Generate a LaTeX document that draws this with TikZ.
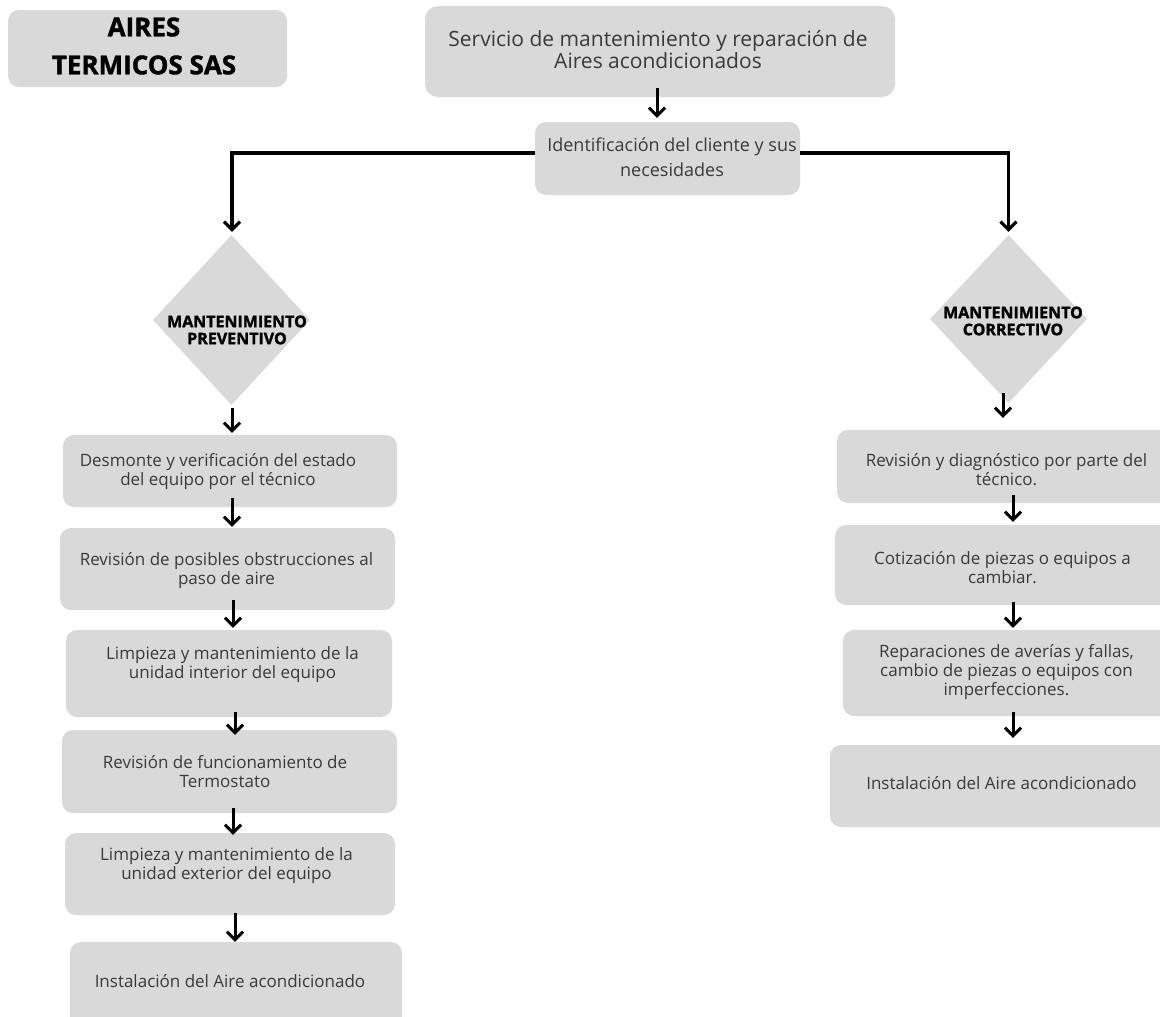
\documentclass[tikz,border=0pt]{standalone}
\usepackage{fontspec}
\setmainfont{Open Sans}
\newfontfamily\heavy[BoldFeatures={FakeBold=1.5}]{Open Sans}
\usetikzlibrary{shapes.geometric,arrows.meta,calc}
\definecolor{boxgray}{HTML}{D9D9D9}
\definecolor{txtgray}{HTML}{3A3A3A}
\begin{document}
\begin{tikzpicture}[x=1pt,y=-1pt,
 box/.style={draw=none,fill=boxgray,rounded corners=11pt,inner sep=0pt},
 dia/.style={diamond,draw=none,fill=boxgray,inner sep=0pt},
 txt/.style={align=center,text=txtgray,inner sep=0pt,font=\fontsize{17}{19}\selectfont},
 btxt/.style={align=center,text=black,inner sep=0pt,font=\heavy\bfseries\fontsize{16}{17}\selectfont},
 arr/.style={line width=3pt,-{Straight Barb[length=8pt,width=16pt]}},
 conn/.style={line width=3.2pt,-{Straight Barb[length=8pt,width=16pt]}},
]
\useasboundingbox (0,0) rectangle (1160,1017);

% boxes
\node[box,minimum width=279pt,minimum height=77pt] (title) at (147.5,48.5) {};
\node[box,rounded corners=13pt,minimum width=470pt,minimum height=91pt] (top) at (660,51.5) {};
\node[box,minimum width=265pt,minimum height=73pt] (ident) at (667.5,158.5) {};
\node[dia,minimum width=157pt,minimum height=170pt] (dL) at (231.5,320) {};
\node[dia,minimum width=157pt,minimum height=168pt] (dR) at (1008.5,319) {};

\node[box,minimum width=334pt,minimum height=72pt] (L1) at (230,471) {};
\node[box,minimum width=335pt,minimum height=82pt] (L2) at (227.5,569) {};
\node[box,minimum width=326pt,minimum height=87pt] (L3) at (229,673.5) {};
\node[box,minimum width=335pt,minimum height=83pt] (L4) at (229.5,771.5) {};
\node[box,minimum width=330pt,minimum height=82pt] (L5) at (230,874) {};
\node[box,minimum width=332pt,minimum height=88pt] (L6) at (236,986) {};

\node[box,minimum width=343pt,minimum height=73pt] (R1) at (1008.5,466.5) {};
\node[box,minimum width=345pt,minimum height=80pt] (R2) at (1007.5,565) {};
\node[box,minimum width=337pt,minimum height=86pt] (R3) at (1011.5,673) {};
\node[box,minimum width=350pt,minimum height=82pt] (R4) at (1005,786) {};

% texts
\node[btxt,font=\heavy\bfseries\fontsize{26}{38}\selectfont] (titlet) at (144,46) {AIRES\\TERMICOS SAS};
\node[txt,font=\fontsize{21}{22}\selectfont] (topt) at (658,50) {Servicio de mantenimiento y reparación de\\Aires acondicionados};
\node[txt,font=\fontsize{18}{25}\selectfont] (identt) at (672,157) {Identificación del cliente y sus\\necesidades};
\node[btxt] (dLt) at (237,330) {MANTENIMIENTO\\PREVENTIVO};
\node[btxt] (dRt) at (1013,321) {MANTENIMIENTO\\CORRECTIVO};

\node[txt] (L1t) at (218,472) {Desmonte y verificación del estado\\del equipo por el técnico};
\node[txt] (L2t) at (226.5,571) {Revisión de posibles obstrucciones al\\paso de aire};
\node[txt] (L3t) at (232.5,665) {Limpieza y mantenimiento de la\\unidad interior del equipo};
\node[txt] (L4t) at (225,772) {Revisión de funcionamiento de\\Termostato};
\node[txt] (L5t) at (226.5,866) {Limpieza y mantenimiento de la\\unidad exterior del equipo};
\node[txt] (L6t) at (230,981) {Instalación del Aire acondicionado};

\node[txt] (R1t) at (1006.5,470) {Revisión y diagnóstico por parte del\\técnico.};
\node[txt] (R2t) at (1002.5,568) {Cotización de piezas o equipos a\\cambiar.};
\node[txt] (R3t) at (1006.5,672.5) {Reparaciones de averías y fallas,\\cambio de piezas o equipos con\\imperfecciones.};
\node[txt] (R4t) at (1001.5,783) {Instalación del Aire acondicionado};

% connectors
\draw[arr] ($(top.south)+(-3,-9)$) -- ($(ident.north)+(-10.5,-4)$);
\draw[conn] ($(ident.west)+(0,-5.5)$) -| ($(dL.north)+(0.5,-3)$);
\draw[conn] ($(ident.east)+(0,-5.5)$) -| ($(dR.north)+(0,-3)$);

\draw[arr] ($(dL.south)+(0.5,3)$) -- ($(L1.north)+(2,-2)$);
\draw[arr] ($(L1.south)+(2,-9)$) -- ($(L2.north)+(4.5,-1)$);
\draw[arr] ($(L2.south)+(5.5,-10)$) -- ($(L3.north)+(4,-2)$);
\draw[arr] ($(L3.south)+(6,-5)$) -- ($(L4.north)+(5.5,5)$);
\draw[arr] ($(L4.south)+(3.5,-5)$) -- ($(L5.north)+(3,2)$);
\draw[arr] ($(L5.south)+(5,-2)$) -- ($(L6.north)+(-1,0)$);

\draw[arr] ($(dR.south)+(-5.5,-10)$) -- ($(R1.north)+(-5.5,-12)$);
\draw[arr] ($(R1.south)+(4.5,-8)$) -- ($(R2.north)+(5.5,-3)$);
\draw[arr] ($(R2.south)+(5.5,-3)$) -- ($(R3.north)+(1.5,-2)$);
\draw[arr] ($(R3.south)+(1.5,-4)$) -- ($(R4.north)+(8,-7)$);
\end{tikzpicture}
\end{document}
